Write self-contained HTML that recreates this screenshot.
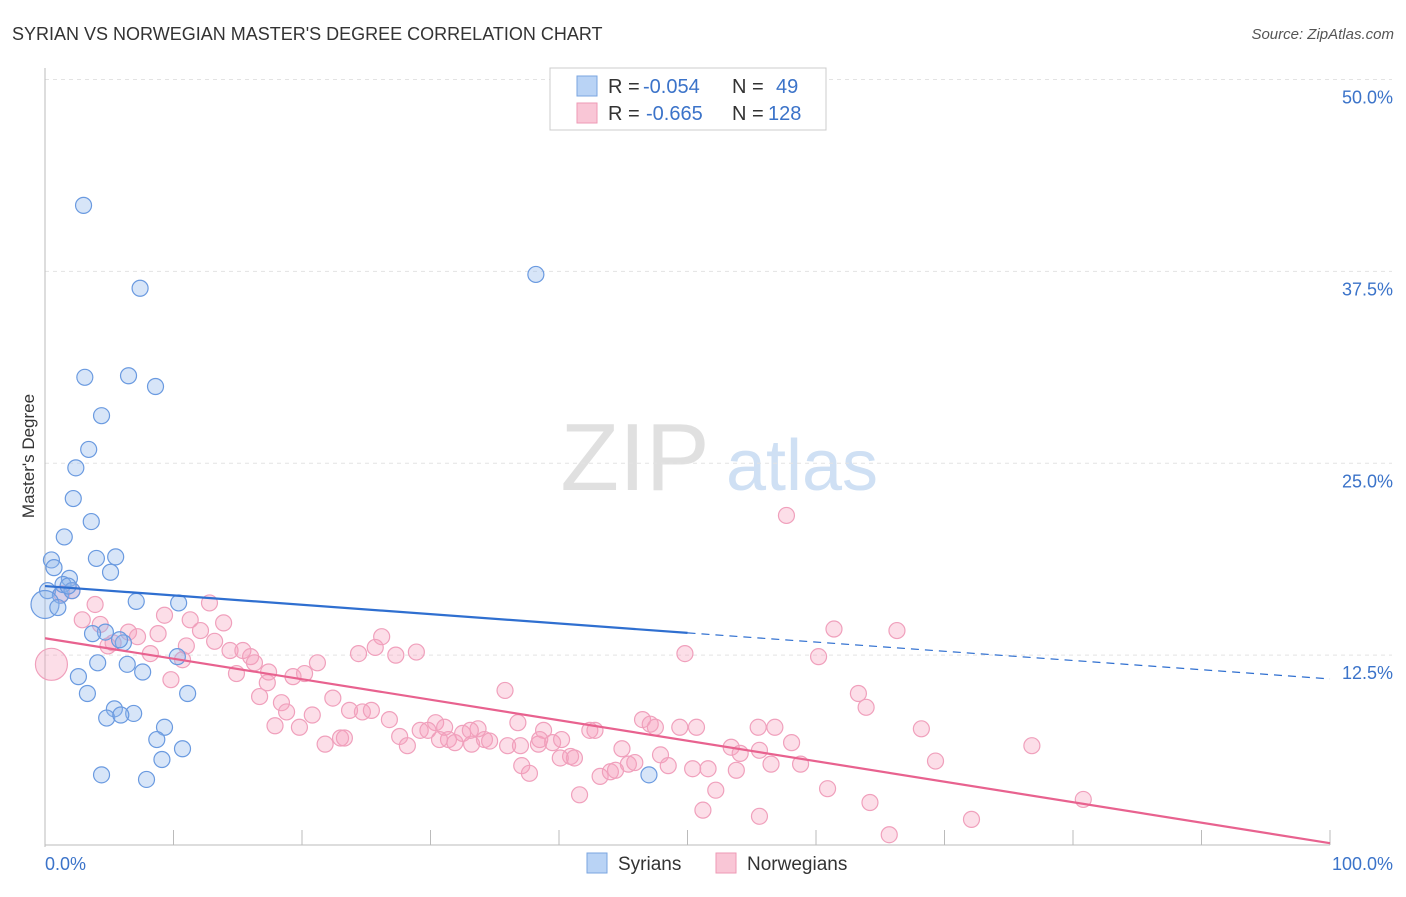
<!DOCTYPE html>
<html><head><meta charset="utf-8"><style>
body{margin:0;background:#fff;font-family:"Liberation Sans",sans-serif;}
svg text{font-family:"Liberation Sans",sans-serif;}
</style></head><body>
<svg id="c" width="1406" height="892" xmlns="http://www.w3.org/2000/svg">
<text x="12" y="40" font-size="18" fill="#333">SYRIAN VS NORWEGIAN MASTER'S DEGREE CORRELATION CHART</text>
<text x="1394" y="39" font-size="15" fill="#555" font-style="italic" text-anchor="end">Source: ZipAtlas.com</text>
<text x="34" y="456" font-size="17" fill="#333" text-anchor="middle" transform="rotate(-90 34 456)">Master's Degree</text>
<text x="635" y="490" font-size="96" fill="#e0e0e0" font-family="Liberation Serif" text-anchor="middle">ZIP</text>
<text x="802" y="490" font-size="72" fill="#cfe0f4" text-anchor="middle">atlas</text>
<g id="grid"></g><g id="marks"></g>
<g>
<rect x="550" y="68" width="276" height="62" fill="#fff" stroke="#ccc"/>
<rect x="577" y="76" width="20" height="20" fill="#b9d3f5" stroke="#7aa6e0"/>
<rect x="577" y="103" width="20" height="20" fill="#f9c6d6" stroke="#ee9ab5"/>
<text x="608" y="93" font-size="20" fill="#333">R =</text>
<text x="643" y="93" font-size="20" fill="#3b73c9">-0.054</text>
<text x="732" y="93" font-size="20" fill="#333">N =</text>
<text x="776" y="93" font-size="20" fill="#3b73c9">49</text>
<text x="608" y="120" font-size="20" fill="#333">R =</text>
<text x="646" y="120" font-size="20" fill="#3b73c9">-0.665</text>
<text x="732" y="120" font-size="20" fill="#333">N =</text>
<text x="768" y="120" font-size="20" fill="#3b73c9">128</text>
</g>
<g>
<rect x="587" y="853" width="20" height="20" fill="#b9d3f5" stroke="#7aa6e0"/>
<text x="618" y="870" font-size="19" fill="#333">Syrians</text>
<rect x="716" y="853" width="20" height="20" fill="#f9c6d6" stroke="#ee9ab5"/>
<text x="747" y="870" font-size="19" fill="#333">Norwegians</text>
</g>
</svg>
<script>
const yTicks=[12.5,25,37.5,50];
const yTickLabels=["12.5%","25.0%","37.5%","50.0%"];
const syrX=[3,7.4,38.2,3.1,6.5,8.6,4.4,3.4,2.4,2.2,3.6,1.5,0.5,4,5.5,5.1,0.7,1.9,0.2,1.2,1.4,2.1,7.1,10.4,4.7,3.7,6.1,10.3,4.1,6.4,7.6,2.6,3.3,11.1,5.4,6.9,4.8,5.9,9.3,8.7,10.7,9.1,4.4,7.9,47,0,1,5.8,1.8];
const syrY=[41.8,36.4,37.3,30.6,30.7,30,28.1,25.9,24.7,22.7,21.2,20.2,18.7,18.8,18.9,17.9,18.2,17.5,16.7,16.4,17.1,16.7,16,15.9,14,13.9,13.3,12.4,12,11.9,11.4,11.1,10,10,9,8.7,8.4,8.6,7.8,7,6.4,5.7,4.7,4.4,4.7,15.8,15.6,13.5,17];
const norX=[57.7,0.5,3.9,12.8,2.1,1.3,2.9,4.3,9.3,11.3,13.9,12.1,6.5,7.2,5.3,8.8,4.9,8.2,13.2,14.4,15.4,16,16.3,14.9,17.3,19.3,20.2,21.2,26.2,25.7,24.4,27.3,28.9,11,10.7,9.8,16.7,18.4,18.8,20.8,22.4,23.7,24.7,25.4,26.8,17.9,19.8,21.8,23,23.3,27.6,28.2,29.2,30.4,29.8,31.4,31.9,32.5,33.2,33.7,34.2,34.6,35.8,36.8,36,37.1,37.7,38.8,38.4,39.5,40.2,40.9,41.2,42.4,42.8,41.6,43.2,44,44.9,45.4,45.9,46.5,47.1,47.5,47.9,48.5,49.4,49.8,50.7,50.4,51.6,52.2,51.2,53.4,54.1,53.8,55.5,56.8,56.5,55.6,58.1,58.8,60.2,60.9,61.4,63.3,63.9,64.2,65.7,66.3,68.2,69.3,72.1,76.8,80.8,37,33.1,31.1,30.7,38.5,55.6,44.4,40.1,17.4];
const norY=[21.6,11.9,15.8,15.9,16.7,16.5,14.8,14.5,15.1,14.8,14.6,14.1,14,13.7,13.3,13.9,13.1,12.6,13.4,12.8,12.8,12.4,12,11.3,10.7,11.1,11.3,12,13.7,13,12.6,12.5,12.7,13.1,12.2,10.9,9.8,9.4,8.8,8.6,9.7,8.9,8.8,8.9,8.3,7.9,7.8,6.7,7.1,7.1,7.2,6.6,7.6,8.1,7.6,7,6.8,7.4,6.7,7.7,7,6.9,10.2,8.1,6.6,5.3,4.8,7.6,6.7,6.8,7,5.9,5.8,7.6,7.6,3.4,4.6,4.9,6.4,5.4,5.5,8.3,8,7.8,6,5.3,7.8,12.6,7.8,5.1,5.1,3.7,2.4,6.5,6.1,5,7.8,7.8,5.4,2,6.8,5.4,12.4,3.8,14.2,10,9.1,2.9,0.8,14.1,7.7,5.6,1.8,6.6,3.1,6.6,7.6,7.8,7,7,6.3,5,5.8,11.4];
const X=v=>45+v*12.85, Y=v=>847-v*15.35;
const ns="http://www.w3.org/2000/svg";
function mk(t,a,p){const e=document.createElementNS(ns,t);for(const k in a)e.setAttribute(k,a[k]);p.appendChild(e);return e;}
const g=document.getElementById('grid'), m=document.getElementById('marks');
yTicks.forEach((t,i)=>{
 const l=mk('line',{x1:45,x2:1392,y1:Y(t),y2:Y(t),stroke:'#e3e3e3','stroke-dasharray':'4 4'},g);
 
 
 const tx=mk('text',{x:1393,y:Y(t)+24,'font-size':18,fill:'#3b73c9','text-anchor':'end'},g);tx.textContent=yTickLabels[i];
 
 
});
const ax=mk('line',{x1:45,x2:45,y1:68,y2:847,stroke:'#bbb'},g);


const bx=mk('line',{x1:45,x2:1330,y1:845,y2:845,stroke:'#bbb'},g);


for(let i=1;i<=10;i++){const t=mk('line',{x1:X(i*10),x2:X(i*10),y1:830,y2:845,stroke:'#bbb'},g);
 
 }
const x0=mk('text',{x:45,y:870,'font-size':18,fill:'#3b73c9'},g);x0.textContent='0.0%';


const x1=mk('text',{x:1393,y:870,'font-size':18,fill:'#3b73c9','text-anchor':'end'},g);x1.textContent='100.0%';


norX.forEach((v,i)=>{const c=mk('circle',{cx:X(v),cy:Y(norY[i]),r:i==1?16:8,fill:'rgba(245,160,190,0.35)',stroke:'#f0a0bc','stroke-width':1.2},m);
 
 });
syrX.forEach((v,i)=>{const c=mk('circle',{cx:X(v),cy:Y(syrY[i]),r:i==45?14:8,fill:'rgba(140,180,235,0.35)',stroke:'#6a9ae0','stroke-width':1.2},m);
 
 });
let l1=mk('line',{x1:X(0),y1:Y(17),x2:X(50),y2:Y(13.95),stroke:'#2f6fd0','stroke-width':2.2},m);


let l2=mk('line',{x1:X(50),y1:Y(13.95),x2:X(100),y2:Y(10.95),stroke:'#2f6fd0','stroke-width':1.2,'stroke-dasharray':'8 6'},m);


let l3=mk('line',{x1:X(0),y1:Y(13.6),x2:X(100),y2:Y(0.25),stroke:'#e8628f','stroke-width':2.2},m);


</script>
</body></html>
